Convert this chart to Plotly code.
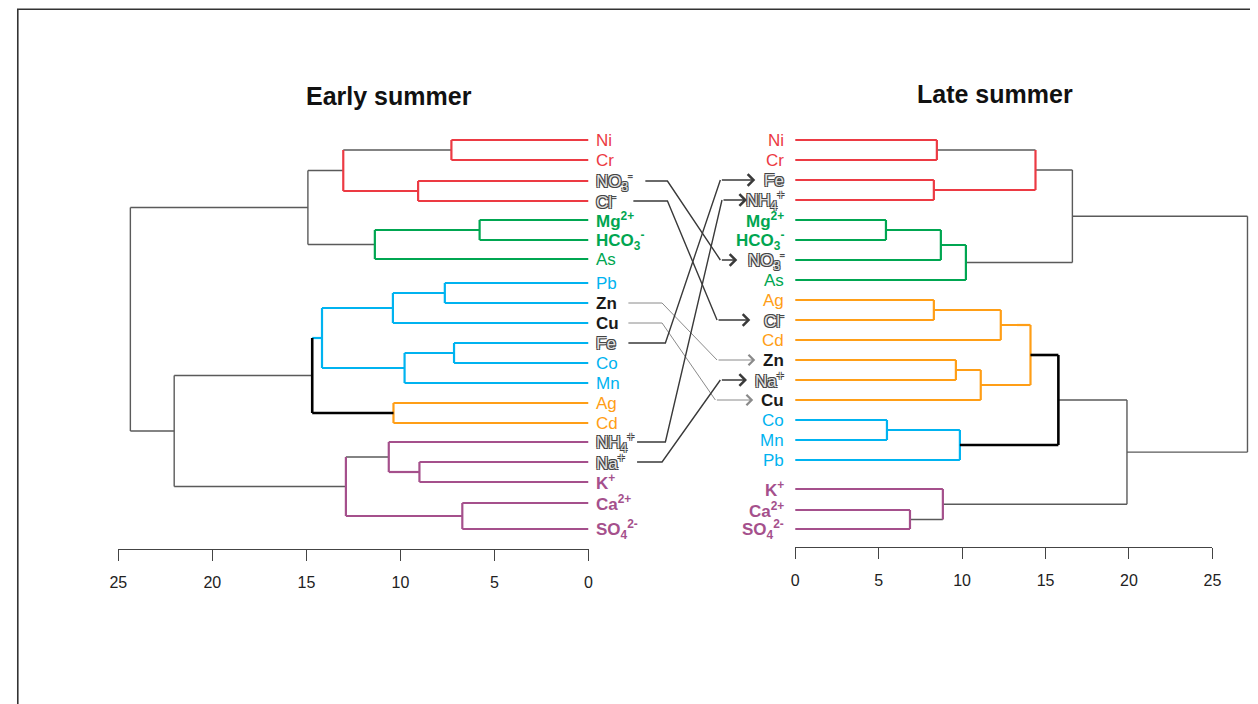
import plotly.graph_objects as go

# ---------------- data ----------------
left_leaves = ["Ni", "Cr", "NO3", "Cl", "Mg", "HCO3", "As", "Pb", "Zn", "Cu",
               "Fe", "Co", "Mn", "Ag", "Cd", "NH4", "Na", "K", "Ca", "SO4"]
right_leaves = ["Ni", "Cr", "Fe", "NH4", "Mg", "HCO3", "NO3", "As", "Ag", "Cl",
                "Cd", "Zn", "Na", "Cu", "Co", "Mn", "Pb", "K", "Ca", "SO4"]

# left (early summer) merges
left_node = ["L1", "L2", "L3", "L4", "L5", "L6", "L7", "L8", "L9", "L10",
             "L11", "L12", "L13", "L14", "L15", "L16", "L17", "L18", "L19"]
left_a = ["Ni", "NO3", "L1", "Mg", "L4", "L3", "Pb", "L7", "Fe", "L9",
          "L8", "Ag", "L11", "Na", "NH4", "Ca", "L15", "L13", "L6"]
left_b = ["Cr", "Cl", "L2", "HCO3", "As", "L5", "Zn", "Cu", "Co", "Mn",
          "L10", "Cd", "L12", "K", "L14", "SO4", "L16", "L17", "L18"]
left_h = [7.29, 9.06, 13.04, 5.79, 11.36, 14.92, 7.64, 10.40, 7.15, 9.78,
          14.17, 10.37, 14.69, 8.99, 10.62, 6.71, 12.90, 22.03, 24.36]

# right (late summer) merges
right_node = ["R1", "R2", "R3", "R4", "R5", "R6", "R7", "R8", "R9", "R10",
              "R11", "R12", "R13", "R14", "R15", "R16", "R17", "R18", "R19"]
right_a = ["Ni", "Fe", "R1", "Mg", "R4", "R5", "R3", "Ag", "R8", "Zn",
           "R10", "R9", "Co", "R13", "R12", "Ca", "K", "R15", "R7"]
right_b = ["Cr", "NH4", "R2", "HCO3", "NO3", "As", "R6", "Cl", "Cd", "Na",
           "Cu", "R11", "Mn", "Pb", "R14", "SO4", "R16", "R17", "R18"]
right_h = [8.49, 8.31, 14.40, 5.44, 8.73, 10.23, 16.61, 8.31, 12.32, 9.63,
           11.12, 14.10, 5.50, 9.87, 15.77, 6.88, 8.85, 19.88, 27.1]

# elements whose cluster membership changed (linked by arrows)
arrow_labels = ["NO3", "Cl", "Zn", "Cu", "Fe", "NH4", "Na"]
tick_vals = [0, 5, 10, 15, 20, 25]

# ---------------- styles / layout ----------------
COL = {"red": "#EC3A43", "green": "#00A651", "blue": "#00B3F0",
       "orange": "#FF9E16", "purple": "#A5508C", "gray": "#5a5a5a",
       "black": "#000000"}
WID = {"gray": 1.4, "black": 2.6}

left_vcol = ["red", "red", "red", "green", "green", "gray", "blue", "blue", "blue", "blue",
             "blue", "orange", "black", "purple", "purple", "purple", "purple", "gray", "gray"]
left_acol = ["red", "red", "gray", "green", "green", "gray", "blue", "blue", "blue", "blue",
             "blue", "orange", "blue", "purple", "purple", "purple", "gray", "gray", "gray"]
left_bcol = ["red", "red", "red", "green", "gray", "gray", "blue", "blue", "blue", "blue",
             "blue", "orange", "black", "purple", "purple", "purple", "purple", "gray", "gray"]
right_vcol = ["red", "red", "red", "green", "green", "green", "gray", "orange", "orange", "orange",
              "orange", "orange", "blue", "blue", "black", "purple", "purple", "gray", "gray"]
right_acol = ["red", "red", "gray", "green", "green", "green", "gray", "orange", "orange", "orange",
              "orange", "orange", "blue", "blue", "black", "purple", "purple", "gray", "gray"]
right_bcol = ["red", "red", "red", "green", "green", "green", "gray", "orange", "orange", "orange",
              "orange", "orange", "blue", "blue", "black", "purple", "gray", "gray", "gray"]

# leaf slots (vertical layout, 1 slot = 20 px)
left_pos = [1, 2, 3.05, 4.05, 5, 6, 6.95, 8.15, 9.15, 10.15,
            11.15, 12.15, 13.15, 14.15, 15.15, 16.1, 17.1, 18.1, 19.15, 20.45]
right_pos = [1, 2, 3, 4, 5, 6, 7, 8, 9, 10,
             11, 12, 13, 14, 15, 16, 17, 18.45, 19.5, 20.45]

label_text = {"Ni": "Ni", "Cr": "Cr", "NO3": "NO<sub>3</sub><sup>-</sup>", "Cl": "Cl<sup>-</sup>",
              "Mg": "<b>Mg<sup>2+</sup></b>", "HCO3": "<b>HCO<sub>3</sub><sup>-</sup></b>",
              "As": "As", "Pb": "Pb", "Zn": "<b>Zn</b>", "Cu": "<b>Cu</b>", "Fe": "Fe",
              "Co": "Co", "Mn": "Mn", "Ag": "Ag", "Cd": "Cd",
              "NH4": "NH<sub>4</sub><sup>+</sup>", "Na": "Na<sup>+</sup>",
              "K": "<b>K<sup>+</sup></b>", "Ca": "<b>Ca<sup>2+</sup></b>",
              "SO4": "<b>SO<sub>4</sub><sup>2-</sup></b>"}
label_col = {"Ni": "red", "Cr": "red", "Mg": "green", "HCO3": "green", "As": "green",
             "Pb": "blue", "Co": "blue", "Mn": "blue", "Ag": "orange", "Cd": "orange",
             "K": "purple", "Ca": "purple", "SO4": "purple", "Zn": "ink", "Cu": "ink",
             "NO3": "hollow", "Cl": "hollow", "Fe": "hollow", "NH4": "hollow", "Na": "hollow"}

arrow_tone = ["dark", "dark", "light", "light", "dark", "dark", "dark"]
arrow_x0 = [0.275, 0.217, 0.193, 0.193, 0.193, 0.235, 0.235]
arrow_x1 = [0.382, 0.382, 0.356, 0.356, 0.372, 0.372, 0.356]
arrow_x2 = [0.638, 0.622, 0.622, 0.614, 0.638, 0.646, 0.638]
arrow_x3 = [0.720, 0.783, 0.807, 0.797, 0.807, 0.767, 0.767]

W, H = 1258, 704
# measured page -> picture mapping of the viewer
X_OFF, X_SCALE, Y_OFF = 15.5, 0.9874, 8
FONT = "Liberation Sans, Arial, Helvetica, sans-serif"


def sx(px):
    return (px - X_OFF) / X_SCALE / W


def sy(py):
    return 1 - (py - Y_OFF) / H


def tree_segments(leaves, pos, nodes, a, b, h, vc, ac, bc):
    y = {lf: p for lf, p in zip(leaves, pos)}
    x = {lf: 0.0 for lf in leaves}
    segs = {}

    def add(c, xs, ys):
        d = segs.setdefault(c, ([], []))
        d[0].extend(xs + [None])
        d[1].extend(ys + [None])

    for n, ca, cb, hh, v, sa, sb in zip(nodes, a, b, h, vc, ac, bc):
        y[n] = (y[ca] + y[cb]) / 2.0
        x[n] = hh
        add(v, [hh, hh], [y[ca], y[cb]])
        add(v if ca in leaves else sa, [x[ca], hh], [y[ca], y[ca]])
        add(v if cb in leaves else sb, [x[cb], hh], [y[cb], y[cb]])
    return segs


fig = go.Figure()

order = ["gray", "red", "green", "blue", "orange", "purple", "black"]
for xa, args in (("x", (left_leaves, left_pos, left_node, left_a, left_b, left_h,
                        left_vcol, left_acol, left_bcol)),
                 ("x2", (right_leaves, right_pos, right_node, right_a, right_b, right_h,
                         right_vcol, right_acol, right_bcol))):
    segs = tree_segments(*args)
    for c in order:
        if c not in segs:
            continue
        xs, ys = segs[c]
        fig.add_trace(go.Scatter(x=xs, y=ys, mode="lines", xaxis=xa, yaxis="y",
                                 line=dict(color=COL[c], width=WID.get(c, 2.2)),
                                 hoverinfo="skip", showlegend=False))

# dummy trace so the right visible axis is drawn
fig.add_trace(go.Scatter(x=[0, 25], y=[None, None], xaxis="x4", yaxis="y",
                         mode="lines", hoverinfo="skip", showlegend=False))

# arrows between the two dendrograms
lpos = dict(zip(left_leaves, left_pos))
rpos = dict(zip(right_leaves, right_pos))
annotations = []
for lab, tone, x0, x1, x2, x3 in zip(arrow_labels, arrow_tone, arrow_x0, arrow_x1, arrow_x2, arrow_x3):
    c = "#3a3a3a" if tone == "dark" else "#8a8a8a"
    w = 1.4 if tone == "dark" else 1.0
    yl, yr = lpos[lab], rpos[lab]
    fig.add_trace(go.Scatter(x=[x0, x1, x2], y=[yl, yl, yr], mode="lines",
                             xaxis="x3", yaxis="y", line=dict(color=c, width=w),
                             hoverinfo="skip", showlegend=False))
    annotations.append(dict(x=x3, y=yr, xref="x3", yref="y", ax=x2, ay=yr,
                            axref="x3", ayref="y", text="", showarrow=True,
                            arrowhead=4, arrowsize=1.6 if tone == "dark" else 2.0,
                            arrowwidth=w, arrowcolor=c, standoff=0))

HOLLOW_SHADOW = ("-1px -1px 0 #444444, 1px -1px 0 #444444, "
                 "-1px 1px 0 #444444, 1px 1px 0 #444444")
LABEL_SIZE = 17


def label_font(name):
    k = label_col[name]
    if k == "hollow":
        return dict(family=FONT, size=LABEL_SIZE, color="#e2e2e2", shadow=HOLLOW_SHADOW)
    if k == "ink":
        return dict(family=FONT, size=LABEL_SIZE, color="#1a1a1a")
    return dict(family=FONT, size=LABEL_SIZE, color=COL[k])


for lf, p in zip(left_leaves, left_pos):
    annotations.append(dict(x=0, y=p, xref="x", yref="y", text=label_text[lf],
                            showarrow=False, xanchor="left", yanchor="middle",
                            xshift=5, font=label_font(lf)))
for lf, p in zip(right_leaves, right_pos):
    annotations.append(dict(x=0, y=p, xref="x2", yref="y", text=label_text[lf],
                            showarrow=False, xanchor="right", yanchor="middle",
                            xshift=-9, font=label_font(lf)))

annotations.append(dict(x=sx(388), y=sy(96), xref="paper", yref="paper",
                        xanchor="center", yanchor="middle",
                        text="<b>Early summer</b>", showarrow=False,
                        font=dict(family=FONT, size=25, color="#111111")))
annotations.append(dict(x=sx(995), y=sy(94), xref="paper", yref="paper",
                        xanchor="center", yanchor="middle",
                        text="<b>Late summer</b>", showarrow=False,
                        font=dict(family=FONT, size=25, color="#111111")))

axis_common = dict(tickvals=tick_vals, ticks="outside", ticklen=11, tickwidth=1.3,
                   tickcolor="#444444", showline=True, linecolor="#444444",
                   linewidth=1.3, showgrid=False, zeroline=False,
                   tickfont=dict(family=FONT, size=16, color="#222222"),
                   ticklabelstandoff=8, anchor="free", fixedrange=True)

# vertical slot axis: slot s sits at picture y = 120 + 20 s
y_top = (Y_OFF - 120) / 20.0
y_bot = (Y_OFF + H - 120) / 20.0

# right drawing axis shares the scale of the visible right axis (0 -> 795 px, 25 -> 1213 px)
d0, d25 = sx(795), sx(1213)
right_end = 25 * (1.0 - d0) / (d25 - d0)

fig.update_layout(
    width=W, height=H, autosize=False,
    margin=dict(l=0, r=0, t=0, b=0),
    paper_bgcolor="white", plot_bgcolor="rgba(0,0,0,0)",
    showlegend=False,
    xaxis=dict(domain=[sx(117), sx(588)], range=[25, 0], position=sy(549), **axis_common),
    xaxis4=dict(domain=[d0, d25], range=[0, 25], position=sy(547), **axis_common),
    xaxis2=dict(domain=[d0, 1.0], range=[0, right_end], visible=False,
                anchor="y", fixedrange=True),
    xaxis3=dict(domain=[sx(588), sx(795)], range=[0, 1], visible=False,
                anchor="y", fixedrange=True),
    yaxis=dict(domain=[0, 1], range=[y_bot, y_top], visible=False, fixedrange=True),
    annotations=annotations,
    shapes=[dict(type="rect", xref="paper", yref="paper", x0=0.8 / W, y0=1 - 1.2 / H,
                 x1=1.02, y1=-0.02, line=dict(color="#333333", width=1.6))],
)

fig.write_html("out.html")
